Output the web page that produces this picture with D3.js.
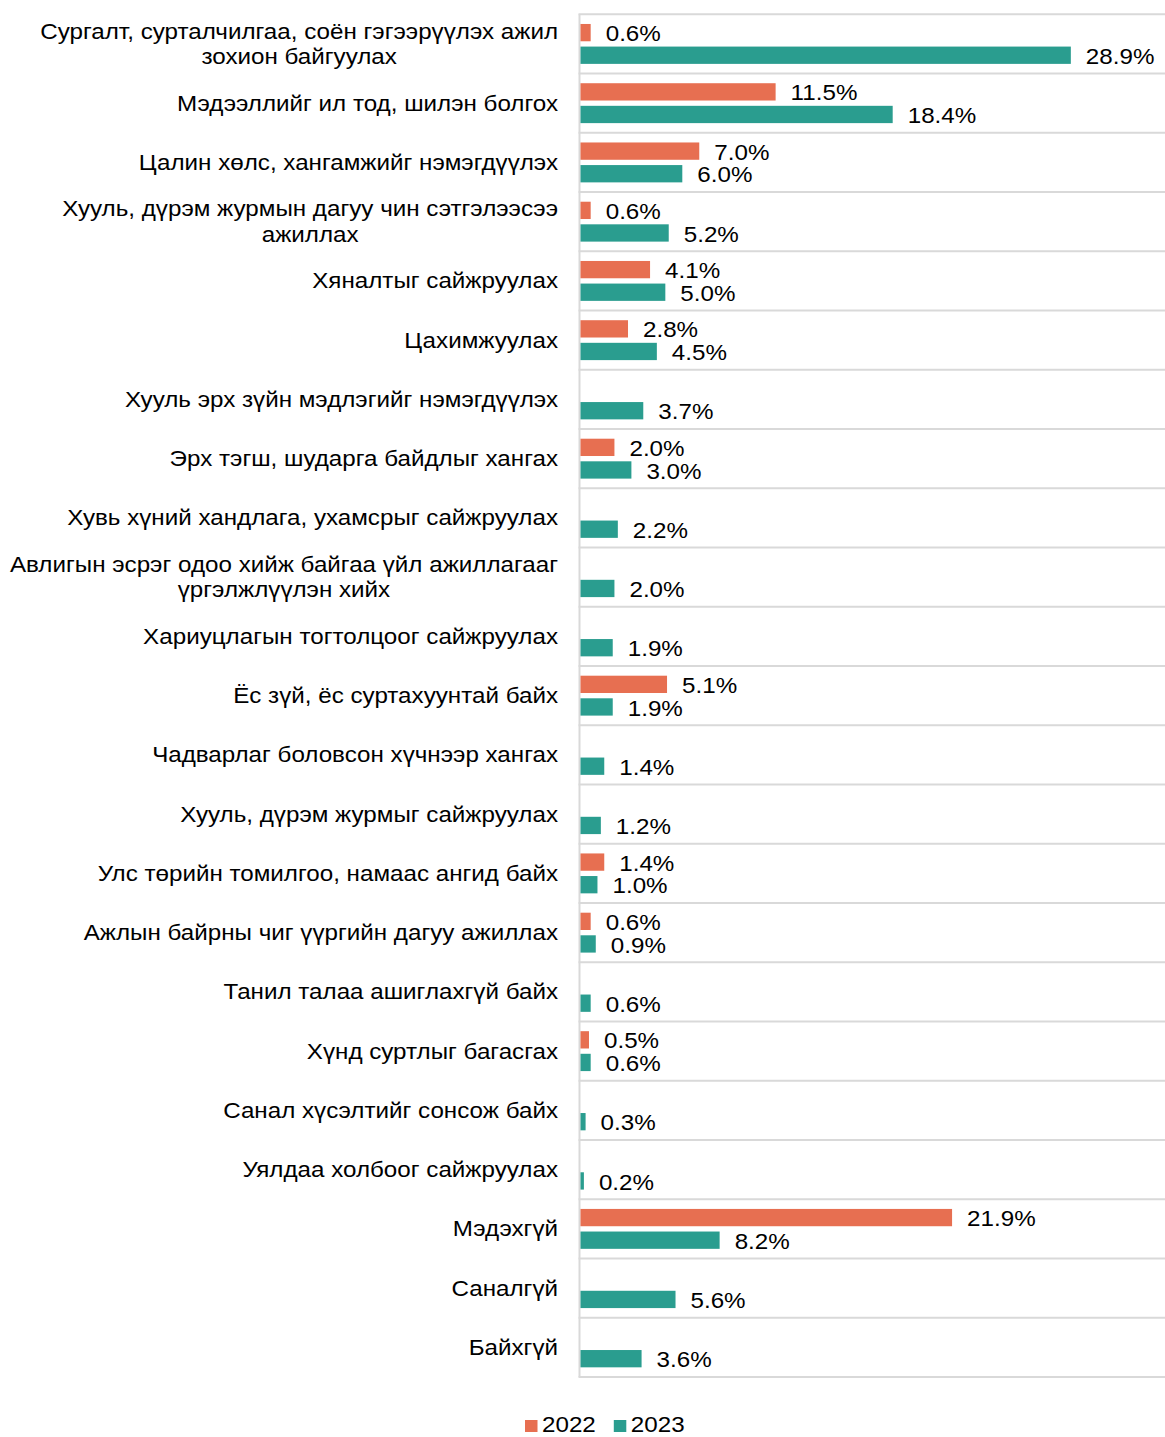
<!DOCTYPE html>
<html>
<head>
<meta charset="utf-8">
<script src="https://cdn.jsdelivr.net/npm/d3@7"></script>
<style>
  html, body { margin: 0; padding: 0; background: #fff; }
  svg { display: block; }
  text { font-family: "Liberation Sans", Arial, sans-serif; fill: #000; }
</style>
</head>
<body>
<svg id="chart" width="1165" height="1437"></svg>
<script>
// Category labels (each inner array is one wrapped label)
const categories = [
  ["Сургалт, сурталчилгаа, соён гэгээрүүлэх ажил", "зохион байгуулах"],
  ["Мэдээллийг ил тод, шилэн болгох"],
  ["Цалин хөлс, хангамжийг нэмэгдүүлэх"],
  ["Хууль, дүрэм журмын дагуу чин сэтгэлээсээ", "ажиллах"],
  ["Хяналтыг сайжруулах"],
  ["Цахимжуулах"],
  ["Хууль эрх зүйн мэдлэгийг нэмэгдүүлэх"],
  ["Эрх тэгш, шударга байдлыг хангах"],
  ["Хувь хүний хандлага, ухамсрыг сайжруулах"],
  ["Авлигын эсрэг одоо хийж байгаа үйл ажиллагааг", "үргэлжлүүлэн хийх"],
  ["Хариуцлагын тогтолцоог сайжруулах"],
  ["Ёс зүй, ёс суртахуунтай байх"],
  ["Чадварлаг боловсон хүчнээр хангах"],
  ["Хууль, дүрэм журмыг сайжруулах"],
  ["Улс төрийн томилгоо, намаас ангид байх"],
  ["Ажлын байрны чиг үүргийн дагуу ажиллах"],
  ["Танил талаа ашиглахгүй байх"],
  ["Хүнд суртлыг багасгах"],
  ["Санал хүсэлтийг сонсож байх"],
  ["Уялдаа холбоог сайжруулах"],
  ["Мэдэхгүй"],
  ["Саналгүй"],
  ["Байхгүй"]
];

const seriesNames = ["2022", "2023"];
const seriesColors = ["#E76F51", "#2A9D8F"];

// Percent values per category (null = no answer recorded that year)
const values2022 = [0.6, 11.5, 7.0, 0.6, 4.1, 2.8, null, 2.0, null, null, null, 5.1,
                    null, null, 1.4, 0.6, null, 0.5, null, null, 21.9, null, null];
const values2023 = [28.9, 18.4, 6.0, 5.2, 5.0, 4.5, 3.7, 3.0, 2.2, 2.0, 1.9, 1.9,
                    1.4, 1.2, 1.0, 0.9, 0.6, 0.6, 0.3, 0.2, 8.2, 5.6, 3.6];

const svg = d3.select("#chart");
const W = 1165;

const plotLeft = 580.5, plotRight = 1165, plotTop = 14.3, plotBottom = 1377;
const FS = 21.5;      // font size
const SX = 1.125;     // horizontal stretch of the lettering

const keys = categories.map((d, i) => i);
const y = d3.scaleBand().domain(keys).range([plotTop, plotBottom]).padding(0);
const ySub = d3.scaleBand().domain(seriesNames).range([0, y.bandwidth()])
  .paddingInner(0.2345).paddingOuter(0.428);
const x = d3.scaleLinear().domain([0, 34.45]).range([plotLeft, plotRight]);

// Row separators
const gridYs = keys.map(k => y(k)).concat([plotBottom]);
svg.append("g").selectAll("line").data(gridYs).join("line")
  .attr("x1", plotLeft - 2).attr("x2", W)
  .attr("y1", d => d).attr("y2", d => d)
  .attr("stroke", "#d9d9d9").attr("stroke-width", 2);

// Vertical category axis line
svg.append("line")
  .attr("x1", plotLeft - 1).attr("x2", plotLeft - 1)
  .attr("y1", plotTop).attr("y2", plotBottom)
  .attr("stroke", "#d9d9d9").attr("stroke-width", 2);

const rows = keys.map(i => ({
  i,
  vals: [
    { s: "2022", v: values2022[i], c: seriesColors[0] },
    { s: "2023", v: values2023[i], c: seriesColors[1] }
  ].filter(d => d.v !== null)
}));

const rowG = svg.append("g").selectAll("g").data(rows).join("g")
  .attr("transform", d => `translate(0,${y(d.i)})`);

rowG.selectAll("rect").data(d => d.vals).join("rect")
  .attr("x", x(0))
  .attr("y", d => ySub(d.s))
  .attr("width", d => x(d.v) - x(0))
  .attr("height", ySub.bandwidth())
  .attr("fill", d => d.c);

rowG.selectAll("text.val").data(d => d.vals).join("text")
  .attr("class", "val")
  .attr("transform", d => `translate(${x(d.v) + 15},${ySub(d.s) + ySub.bandwidth() / 2}) scale(${SX},1)`)
  .attr("dy", "0.4em")
  .attr("font-size", FS)
  .text(d => d.v.toFixed(1) + "%");

// Category labels: block right-aligned, lines centered within the block
const labelRight = 558;
const lineH = 25.5;
const labG = svg.append("g");
categories.forEach((lines, i) => {
  const cy = y(i) + y.bandwidth() / 2;
  const t = labG.append("text").attr("font-size", FS)
    .attr("transform", `translate(${labelRight},${cy}) scale(${SX},1)`);
  const spans = lines.map((ln, j) =>
    t.append("tspan").attr("y", 7.5 + (j - (lines.length - 1) / 2) * lineH).text(ln));
  const widths = spans.map(s => s.node().getComputedTextLength());
  const maxW = d3.max(widths);
  t.attr("text-anchor", "middle");
  spans.forEach(s => s.attr("x", -maxW / 2));
});

// Legend
const legG = svg.append("g");
let lx = 525;
seriesNames.forEach((name, i) => {
  legG.append("rect").attr("x", lx).attr("y", 1420).attr("width", 12.5).attr("height", 12)
    .attr("fill", seriesColors[i]);
  const t = legG.append("text")
    .attr("transform", `translate(${lx + 17},1432) scale(${SX},1)`)
    .attr("font-size", FS).text(name);
  lx += 17 + t.node().getComputedTextLength() * SX + 18;
});
</script>
</body>
</html>
